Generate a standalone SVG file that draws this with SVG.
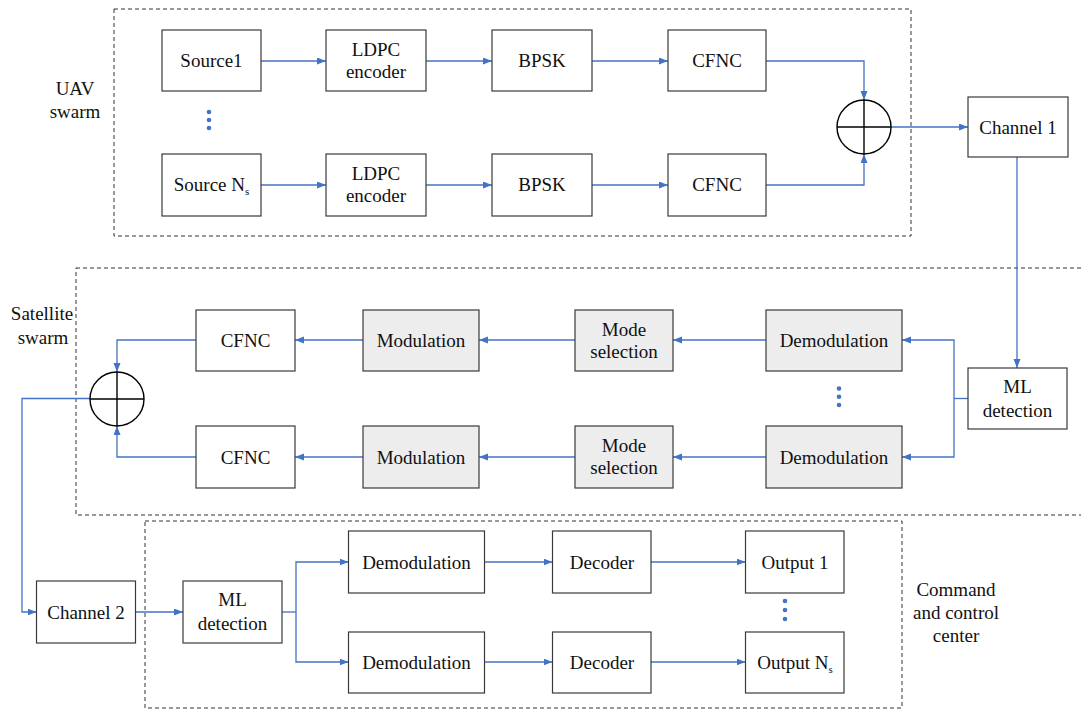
<svg xmlns="http://www.w3.org/2000/svg" width="1081" height="709" viewBox="0 0 1081 709">
<defs>
<marker id="ah" markerUnits="userSpaceOnUse" markerWidth="10" markerHeight="8" refX="9" refY="3.5" orient="auto">
<path d="M0,0 L9,3.5 L0,7 z" fill="#4472C4"/>
</marker>
<style>
.box{fill:#ffffff;stroke:#3a3a3a;stroke-width:1.2}
.gbox{fill:#ededed;stroke:#3a3a3a;stroke-width:1.2}
.dash{fill:none;stroke:#333;stroke-width:1;stroke-dasharray:4,3}
.t{font-size:19px;fill:#111;text-anchor:middle}
.sub{font-size:11px}
.c{fill:none;stroke:#4472C4;stroke-width:1.3}
.a{marker-end:url(#ah)}
.sum{fill:#ffffff;stroke:#000;stroke-width:1.4}
.dot{fill:#4472C4}
</style>
</defs>
<rect width="1081" height="709" fill="#ffffff"/>

<g id="groups" font-family="Liberation Serif, Times New Roman, Times, DejaVu Serif, Noto Serif, serif">
<rect class="dash" x="114" y="9" width="797" height="227"/>
<rect class="dash" x="76" y="268" width="1010" height="247"/>
<rect class="dash" x="145" y="521" width="757" height="187"/>
<text class="t" x="75" y="94.5">UAV</text>
<text class="t" x="75" y="117.5">swarm</text>
<text class="t" x="42" y="319.5">Satellite</text>
<text class="t" x="43" y="343.5">swarm</text>
<text class="t" x="956" y="595.5">Command</text>
<text class="t" x="956" y="618.5">and control</text>
<text class="t" x="956" y="641.5">center</text>
</g>

<g id="connectors">
<line class="c a" x1="261" y1="61" x2="326" y2="61"/>
<line class="c a" x1="426" y1="61" x2="492" y2="61"/>
<line class="c a" x1="592" y1="61" x2="668" y2="61"/>
<polyline class="c a" points="766,61 864,61 864,100"/>
<line class="c a" x1="261" y1="185" x2="326" y2="185"/>
<line class="c a" x1="426" y1="185" x2="492" y2="185"/>
<line class="c a" x1="592" y1="185" x2="668" y2="185"/>
<polyline class="c a" points="766,185 864,185 864,154"/>
<line class="c a" x1="891" y1="127" x2="968" y2="127"/>
<line class="c a" x1="1017" y1="157" x2="1017" y2="368"/>
<line class="c" x1="968" y1="398.5" x2="954" y2="398.5"/>
<polyline class="c a" points="954,398.5 954,340 902,340"/>
<polyline class="c a" points="954,398.5 954,457 902,457"/>
<line class="c a" x1="766" y1="340" x2="673" y2="340"/>
<line class="c a" x1="575" y1="340" x2="479" y2="340"/>
<line class="c a" x1="363" y1="340" x2="295" y2="340"/>
<polyline class="c a" points="196,340 117,340 117,372"/>
<line class="c a" x1="766" y1="457" x2="673" y2="457"/>
<line class="c a" x1="575" y1="457" x2="479" y2="457"/>
<line class="c a" x1="363" y1="457" x2="295" y2="457"/>
<polyline class="c a" points="196,457 117,457 117,426"/>
<polyline class="c a" points="90,398.5 22,398.5 22,612 36.5,612"/>
<line class="c a" x1="135" y1="612" x2="183" y2="612"/>
<line class="c" x1="282" y1="612" x2="296" y2="612"/>
<polyline class="c a" points="296,612 296,562 348.5,562"/>
<polyline class="c a" points="296,612 296,662 348.5,662"/>
<line class="c a" x1="484.5" y1="562" x2="552.5" y2="562"/>
<line class="c a" x1="651" y1="562" x2="745.5" y2="562"/>
<line class="c a" x1="484.5" y1="662" x2="552.5" y2="662"/>
<line class="c a" x1="651" y1="662" x2="745.5" y2="662"/>
</g>

<g id="dots">
<circle class="dot" cx="209" cy="112" r="2.3"/>
<circle class="dot" cx="209" cy="120" r="2.3"/>
<circle class="dot" cx="209" cy="128" r="2.3"/>
<circle class="dot" cx="839" cy="388.5" r="2.3"/>
<circle class="dot" cx="839" cy="396.7" r="2.3"/>
<circle class="dot" cx="839" cy="405" r="2.3"/>
<circle class="dot" cx="785" cy="601" r="2.3"/>
<circle class="dot" cx="785" cy="610" r="2.3"/>
<circle class="dot" cx="785" cy="619" r="2.3"/>
</g>

<g id="nodes" font-family="Liberation Serif, Times New Roman, Times, DejaVu Serif, Noto Serif, serif">
<g id="source1"><rect class="box" x="162" y="30" width="99" height="61"/><text class="t" x="211.5" y="67">Source1</text></g>
<g id="ldpc1"><rect class="box" x="326" y="30" width="100" height="61"/><text class="t" x="376" y="55.5">LDPC</text><text class="t" x="376" y="78">encoder</text></g>
<g id="bpsk1"><rect class="box" x="492" y="30" width="100" height="61"/><text class="t" x="542" y="67">BPSK</text></g>
<g id="cfnc1"><rect class="box" x="668" y="30" width="98" height="61"/><text class="t" x="717" y="67">CFNC</text></g>
<g id="sourceN"><rect class="box" x="162" y="154" width="99" height="62"/><text class="t" x="211.5" y="191">Source N<tspan class="sub" dy="4">s</tspan></text></g>
<g id="ldpc2"><rect class="box" x="326" y="154" width="100" height="62"/><text class="t" x="376" y="179.5">LDPC</text><text class="t" x="376" y="202">encoder</text></g>
<g id="bpsk2"><rect class="box" x="492" y="154" width="100" height="62"/><text class="t" x="542" y="191">BPSK</text></g>
<g id="cfnc2"><rect class="box" x="668" y="154" width="98" height="62"/><text class="t" x="717" y="191">CFNC</text></g>
<g id="sum1"><circle class="sum" cx="864" cy="127" r="27"/><line x1="837" y1="127" x2="891" y2="127" stroke="#000" stroke-width="1.4"/><line x1="864" y1="100" x2="864" y2="154" stroke="#000" stroke-width="1.4"/></g>
<g id="channel1"><rect class="box" x="968" y="97" width="100" height="60"/><text class="t" x="1018" y="133.5">Channel 1</text></g>

<g id="ml1"><rect class="box" x="968" y="368" width="99" height="61"/><text class="t" x="1017.5" y="393">ML</text><text class="t" x="1017.5" y="416.5">detection</text></g>
<g id="demodS1"><rect class="gbox" x="766" y="310" width="136" height="61"/><text class="t" x="834" y="347">Demodulation</text></g>
<g id="demodS2"><rect class="gbox" x="766" y="426" width="136" height="62"/><text class="t" x="834" y="463.5">Demodulation</text></g>
<g id="mode1"><rect class="gbox" x="575" y="310" width="98" height="61"/><text class="t" x="624" y="335.5">Mode</text><text class="t" x="624" y="358">selection</text></g>
<g id="mode2"><rect class="gbox" x="575" y="426" width="98" height="62"/><text class="t" x="624" y="451.5">Mode</text><text class="t" x="624" y="474">selection</text></g>
<g id="mod1"><rect class="gbox" x="363" y="310" width="116" height="61"/><text class="t" x="421" y="347">Modulation</text></g>
<g id="mod2"><rect class="gbox" x="363" y="426" width="116" height="62"/><text class="t" x="421" y="463.5">Modulation</text></g>
<g id="cfncS1"><rect class="box" x="196" y="310" width="99" height="61"/><text class="t" x="245.5" y="347">CFNC</text></g>
<g id="cfncS2"><rect class="box" x="196" y="426" width="99" height="62"/><text class="t" x="245.5" y="463.5">CFNC</text></g>
<g id="sum2"><circle class="sum" cx="117" cy="399" r="27"/><line x1="90" y1="399" x2="144" y2="399" stroke="#000" stroke-width="1.4"/><line x1="117" y1="372" x2="117" y2="426" stroke="#000" stroke-width="1.4"/></g>

<g id="channel2"><rect class="box" x="36.5" y="581" width="99" height="62"/><text class="t" x="86" y="618.5">Channel 2</text></g>
<g id="ml2"><rect class="box" x="183" y="581" width="99" height="62"/><text class="t" x="232.5" y="606">ML</text><text class="t" x="232.5" y="629.5">detection</text></g>
<g id="demodC1"><rect class="box" x="348.5" y="531" width="136" height="62"/><text class="t" x="416.5" y="568.5">Demodulation</text></g>
<g id="demodC2"><rect class="box" x="348.5" y="632" width="136" height="61"/><text class="t" x="416.5" y="668.5">Demodulation</text></g>
<g id="dec1"><rect class="box" x="552.5" y="531" width="98.5" height="62"/><text class="t" x="602" y="568.5">Decoder</text></g>
<g id="dec2"><rect class="box" x="552.5" y="632" width="98.5" height="61"/><text class="t" x="602" y="668.5">Decoder</text></g>
<g id="out1"><rect class="box" x="745.5" y="531" width="98.5" height="62"/><text class="t" x="795" y="568.5">Output 1</text></g>
<g id="outN"><rect class="box" x="745.5" y="632" width="98.5" height="61"/><text class="t" x="795" y="668.5">Output N<tspan class="sub" dy="4">s</tspan></text></g>
</g>
</svg>
